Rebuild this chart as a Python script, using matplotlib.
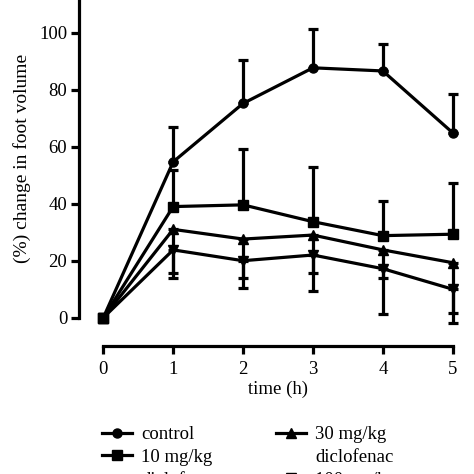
import matplotlib
matplotlib.use("Agg")
import matplotlib.pyplot as plt
from matplotlib.lines import Line2D
import numpy as np

plt.rcParams["font.family"] = ["Liberation Serif", "DejaVu Serif"]

time_h = [0, 1, 2, 3, 4, 5]
labels = ["control", "10 mg/kg", "30 mg/kg", "100 mg/kg"]
drug = "diclofenac"
markers = ["o", "s", "^", "v"]

control = [0, 54.7, 75.2, 87.7, 86.6, 64.9]
control_err = [0, 12.1, 15.2, 13.5, 9.5, 13.6]
dose10 = [0, 39.0, 39.6, 33.7, 28.8, 29.3]
dose10_err = [0, 12.8, 19.7, 19.3, 12.3, 18.1]
dose30 = [0, 31.0, 27.6, 29.0, 23.8, 19.3]
dose30_err = [0, 17.2, 13.8, 13.2, 10.0, 21.3]
dose100 = [0, 23.8, 20.0, 22.0, 17.2, 10.0]
dose100_err = [0, 8.2, 9.5, 12.6, 15.9, 8.2]

series = [control, dose10, dose30, dose100]
errs = [control_err, dose10_err, dose30_err, dose100_err]
# control and 10 mg/kg show upper bars only, the others lower bars only
err_up = [True, True, False, False]

fig = plt.figure(figsize=(4.74, 4.74), dpi=100)
W = H = 474.0
ax = fig.add_axes([103.3 / W, (H - 317.7) / H, (452.7 - 103.3) / W, 317.7 / H])

handles = {}
order = [3, 2, 1, 0]  # draw low series first so the 0 h square sits on top
for i in order:
    e = np.array(errs[i])
    if err_up[i]:
        yerr = [np.zeros_like(e), e]
    else:
        yerr = [e, np.zeros_like(e)]
    ax.errorbar(time_h, series[i], yerr=yerr, fmt="none", ecolor="black",
                elinewidth=2.3, capsize=3.5, capthick=2.3, clip_on=False)
for i in order:
    h, = ax.plot(time_h, series[i], color="black", lw=2.3, marker=markers[i],
                 ms=6.5, clip_on=False)
    handles[i] = h
# the 0 h point shows a square on top
ax.plot(time_h[:1], dose10[:1], color="black", marker="s", ms=6.5, lw=0, clip_on=False)

ax.set_xlim(0, 5)
ax.set_ylim(0, 111.5)
ax.set_xticks(time_h)
ax.set_yticks([0, 20, 40, 60, 80, 100])
for s in ["top", "right"]:
    ax.spines[s].set_visible(False)
ax.spines["left"].set_position(("outward", 24.3 * 72 / 100))
ax.spines["bottom"].set_position(("outward", 28.6 * 72 / 100))
ax.spines["left"].set_bounds(0, 111.5)
ax.spines["bottom"].set_bounds(0, 5)
for s in ["left", "bottom"]:
    ax.spines[s].set_linewidth(2.3)
ax.tick_params(axis="both", width=2.3, length=5.5, labelsize=13.5, direction="out")
ax.tick_params(axis="y", pad=3)
ax.tick_params(axis="x", pad=5)

ax.set_xlabel("time (h)", fontsize=13.5, labelpad=2)
ax.set_ylabel("(%) change in foot volume", fontsize=14, labelpad=6)

# legend: second line of each dose label is its own handle-less row
blank = Line2D([], [], lw=0, marker=None)
leg_handles = [handles[0], handles[1], blank, blank,
               handles[2], blank, handles[3], blank]
leg_labels = [labels[0], labels[1], drug, "",
              labels[2], drug, labels[3], drug]
fig.legend(handles=leg_handles, labels=leg_labels, ncol=2, frameon=False, fontsize=13.5,
           loc="upper left", bbox_to_anchor=(102 / W, (H - 426) / H),
           handlelength=1.6, handletextpad=0.5, columnspacing=3.0,
           labelspacing=0.3, borderaxespad=0, borderpad=0)

fig.savefig("out.png", dpi=100)
